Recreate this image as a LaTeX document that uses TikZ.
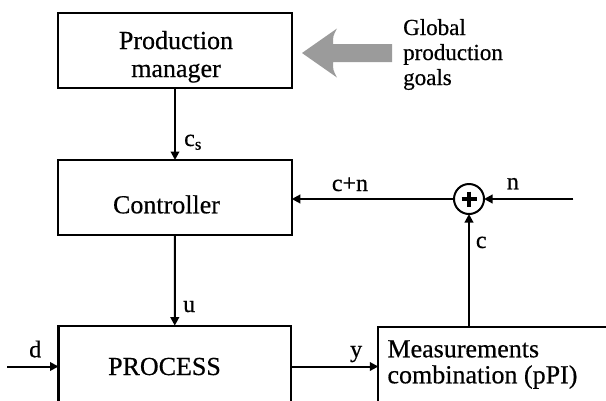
\documentclass[tikz,border=0pt]{standalone}
\usepackage{fontspec}
\setmainfont{Liberation Serif}[FakeBold=0.5]
\usetikzlibrary{arrows.meta,calc}
\definecolor{arrowgray}{RGB}{155,155,155}
\begin{document}
\begin{tikzpicture}[x=1pt,y=-1pt,
  box/.style={draw, line width=2.2pt, inner sep=0pt, outer sep=0pt},
  conn/.style={line width=2pt, -{Triangle[length=8.5pt,width=8.5pt]}},
  boxtext/.style={font=\fontsize{26}{28}\selectfont, inner sep=0pt, anchor=base},
  boxtextl/.style={font=\fontsize{26}{28}\selectfont, inner sep=0pt, anchor=base west},
  lbl/.style={font=\fontsize{24}{26}\selectfont, inner sep=0pt, anchor=base west},
  goaltext/.style={font=\fontsize{23}{25}\selectfont, inner sep=0pt, anchor=base west},
]
\useasboundingbox (0,0) rectangle (606,400);
\clip (0,0) rectangle (606,400);
\fill[white] (0,0) rectangle (606,400);

% boxes
\node[box, minimum width=233.5pt, minimum height=75.6pt] (pm) at (175,50.5) {};
\node[box, minimum width=233.5pt, minimum height=75pt] (ctrl) at (175,197.5) {};
\node[box, minimum width=232.5pt, minimum height=120pt] (proc) at (174.75,385.7) {};
\node[box, minimum width=300pt, minimum height=120pt] (meas) at (528.3,386.7) {};
\node[draw, circle, line width=2pt, minimum size=30pt, inner sep=0pt, outer sep=0pt] (sum) at (469,199) {};
\draw[line width=3.4pt] ($(sum.center)+(-7.5,0)$) -- ($(sum.center)+(7.5,0)$);
\draw[line width=3.4pt] ($(sum.center)+(0,-7.5)$) -- ($(sum.center)+(0,7.5)$);

% box texts
\node[boxtext] (pm1) at (176,49) {Production};
\node[boxtext] (pm2) at (176,77) {manager};
\node[boxtext] (ctrlt) at (166.5,213.3) {Controller};
\node[boxtext] (proct) at (164.5,375) {PROCESS};
\node[boxtextl] (meas1) at (387.3,357.3) {Measurements};
\node[boxtextl] (meas2) at (387.3,383.3) {combination (pPI)};

% global goals
\fill[arrowgray] (302,53) -- (337,28.5) .. controls (333,36) .. (333,44) -- (392,44) -- (392,62) -- (333,62) .. controls (333,70) .. (337,77.5) -- cycle;
\node[goaltext] (g1) at (403,35) {Global};
\node[goaltext] (g2) at (403,60) {production};
\node[goaltext] (g3) at (403,85) {goals};

% free ends
\coordinate (nin) at (573.3,199);
\coordinate (din) at (7,366.5);

% connectors
\draw[conn] (pm.south) -- (ctrl.north);
\draw[conn] (ctrl.south) -- (proc.north);
\draw[conn] (sum.west) -- (sum.west -| ctrl.east);
\draw[conn] (nin) -- (sum.east);
\draw[conn] (meas.north -| sum.center) -- (sum.south);
\draw[conn] (din) -- (din -| proc.west);
\draw[conn] (din -| proc.east) -- (din -| meas.west);

% labels
\node[lbl] (lcs) at (184,146) {c\textsubscript{s}};
\node[lbl] (lcn) at (331.7,191) {c+n};
\node[lbl] (ln) at (506.7,189.3) {n};
\node[lbl] (lc) at (475.7,248) {c};
\node[lbl] (lu) at (183,312) {u};
\node[lbl] (ld) at (29,357.3) {d};
\node[lbl] (ly) at (350,357) {y};
\end{tikzpicture}
\end{document}
